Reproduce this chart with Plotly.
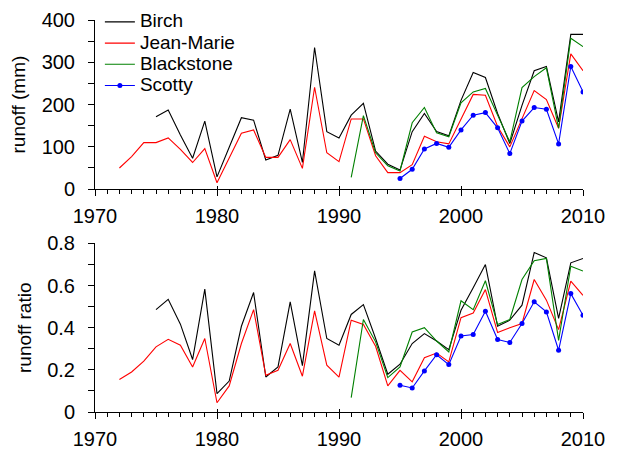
import plotly.graph_objects as go
from plotly.subplots import make_subplots

# runoff (mm)
birch_runoff = [171, 187, 128, 73, 161, 29, 99, 169, 163, 69, 80, 189, 63, 335, 136, 121,
                175, 203, 90, 59, 45, 136, 179, 136, 126, 210, 276, 264, 179, 108, 198, 280,
                290, 159, 366, 366]  # 1975-2010
jeanmarie_runoff = [50, 77, 110, 110, 121, 94, 63, 96, 15, 74, 132, 140, 75, 75, 117, 49, 241,
                    86, 65, 166, 166, 79, 39, 39, 58, 125, 112, 107, 167, 224, 222, 148, 100,
                    168, 233, 212, 144, 320, 280]  # 1972-2010
blackstone_runoff = [28, 174, 86, 55, 43, 157, 193, 133, 124, 204, 230, 238, 175, 112, 240,
                     266, 287, 144, 357, 337]  # 1991-2010
scotty_runoff = [25, 47, 95, 108, 99, 140, 175, 181, 145, 84, 161, 193, 189, 107, 290, 230]  # 1995-2010

# runoff ratio
birch_ratio = [0.486, 0.535, 0.417, 0.249, 0.583, 0.087, 0.147, 0.407, 0.567, 0.166, 0.214,
               0.523, 0.22, 0.670, 0.349, 0.317, 0.463, 0.51, 0.349, 0.179, 0.227, 0.325,
               0.372, 0.337, 0.296, 0.483, 0.59, 0.70, 0.407, 0.436, 0.507, 0.757, 0.732,
               0.444, 0.708, 0.729]  # 1975-2010
jeanmarie_ratio = [0.154, 0.19, 0.241, 0.309, 0.345, 0.317, 0.214, 0.349, 0.044, 0.124, 0.325,
                   0.486, 0.174, 0.198, 0.325, 0.17, 0.48, 0.222, 0.166, 0.436, 0.415, 0.312,
                   0.124, 0.198, 0.143, 0.258, 0.28, 0.238, 0.448, 0.47, 0.581, 0.377, 0.40,
                   0.42, 0.629, 0.531, 0.391, 0.621, 0.554]  # 1972-2010
blackstone_ratio = [0.068, 0.439, 0.333, 0.163, 0.214, 0.38, 0.40, 0.337, 0.285, 0.528, 0.486,
                    0.623, 0.415, 0.439, 0.629, 0.718, 0.729, 0.34, 0.692, 0.669]  # 1991-2010
scotty_ratio = [0.127, 0.114, 0.195, 0.272, 0.225, 0.361, 0.368, 0.478, 0.344, 0.33, 0.42,
                0.523, 0.475, 0.293, 0.562, 0.459]  # 1995-2010

SERIES = [
    ("Birch", 1975, birch_runoff, birch_ratio, "#000000", False),
    ("Jean-Marie", 1972, jeanmarie_runoff, jeanmarie_ratio, "#ff0000", False),
    ("Blackstone", 1991, blackstone_runoff, blackstone_ratio, "#008000", False),
    ("Scotty", 1995, scotty_runoff, scotty_ratio, "#0000ff", True),
]

FONT = "Liberation Sans, Arial, sans-serif"

fig = make_subplots(rows=2, cols=1, vertical_spacing=0.1)

for name, start, runoff, ratio, color, markers in SERIES:
    xs = list(range(start, start + len(runoff)))
    mode = "lines+markers" if markers else "lines"
    for row, vals in ((1, runoff), (2, ratio)):
        fig.add_trace(go.Scatter(
            x=xs, y=vals, mode=mode,
            name="<span style='font-size:19px'>" + name + "</span>",
            line=dict(color=color, width=1.1),
            marker=dict(color=color, size=5),
            showlegend=(row == 1),
        ), row=row, col=1)

axis_common = dict(
    showline=True, linecolor="black", linewidth=1, showgrid=False, zeroline=False,
    ticks="outside", tickcolor="black", tickwidth=1,
    tickfont=dict(family=FONT, size=20, color="black"),
)

for r in (1, 2):
    fig.update_xaxes(range=[1970, 2010], dtick=10, tick0=1970, ticklen=6,
                     ticklabelstandoff=3,
                     minor=dict(dtick=1, ticks="outside", ticklen=4, tickcolor="black"),
                     **axis_common, row=r, col=1)

fig.update_yaxes(range=[0, 400], dtick=100, ticklen=6, ticklabelstandoff=9,
                 minor=dict(dtick=50, ticks="outside", ticklen=6, tickcolor="black"),
                 title=dict(text="runoff (mm)", font=dict(family=FONT, size=19, color="black"), standoff=10),
                 **axis_common, row=1, col=1)
fig.update_yaxes(range=[0, 0.8], dtick=0.2, ticklen=6, ticklabelstandoff=9,
                 minor=dict(dtick=0.1, ticks="outside", ticklen=6, tickcolor="black"),
                 title=dict(text="runoff ratio", font=dict(family=FONT, size=19, color="black"), standoff=10),
                 **axis_common, row=2, col=1)

# inner half of the crossing decade ticks on the x axes
for xa, ya in (("x3", "y"), ("x4", "y2")):
    fig.add_trace(go.Scatter(x=[], y=[], xaxis=xa, yaxis=ya, showlegend=False, hoverinfo="skip"))

H = 391.7
inner = dict(range=[1970, 2010], dtick=10, tick0=1970, ticks="inside", ticklen=3,
             tickcolor="black", tickwidth=1, showticklabels=False, showline=False,
             showgrid=False, zeroline=False)
fig.update_layout(
    width=618, height=450,
    margin=dict(l=95, r=35, t=20, b=38.3, autoexpand=False),
    paper_bgcolor="white", plot_bgcolor="white",
    font=dict(family=FONT, size=19, color="black"),
    yaxis=dict(domain=[(411.7 - 189) / H, 1.0]),
    yaxis2=dict(domain=[0.0, (411.7 - 243.3) / H]),
    xaxis3=dict(overlaying="x", anchor="y", side="bottom", **inner),
    xaxis4=dict(overlaying="x2", anchor="y2", side="bottom", **inner),
    legend=dict(x=0.01, y=1.035, xanchor="left", yanchor="top",
                font=dict(family=FONT, size=14, color="black"),
                bgcolor="rgba(0,0,0,0)", borderwidth=0, tracegroupgap=0),
    showlegend=True,
)

fig.write_html("out.html")
